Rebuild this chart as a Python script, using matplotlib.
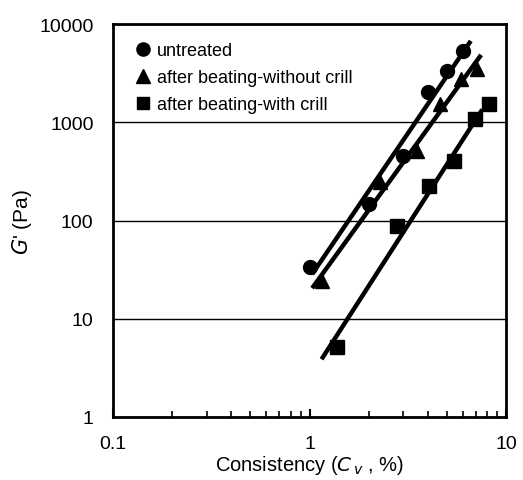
import numpy as np
import matplotlib.pyplot as plt
from matplotlib.ticker import FixedLocator, NullFormatter, LogLocator

plt.rcParams['font.family'] = ['Liberation Sans', 'DejaVu Sans']

# ---------------- data ----------------
cv_untreated = [1.0, 2.0, 3.0, 4.0, 5.0, 6.0]
g_untreated = [34, 147, 450, 2050, 3300, 5300]

cv_nocrill = [1.16, 2.27, 3.5, 4.6, 5.9, 7.1]
g_nocrill = [24, 245, 505, 1530, 2750, 3450]

cv_crill = [1.37, 2.77, 4.06, 5.45, 6.9, 8.2]
g_crill = [5.2, 88, 225, 400, 1080, 1530]

# x-range covered by each fitted power-law line
fit_range_untreated = [1.03, 6.6]
fit_range_nocrill = [1.03, 7.45]
fit_range_crill = [1.15, 7.55]

labels = ["untreated", "after beating-without crill", "after beating-with crill"]

fig = plt.figure(figsize=(5.23, 4.81), dpi=100)
ax = fig.add_axes([0.216, 0.131, 0.752, 0.817])

series = [
    (cv_untreated, g_untreated, fit_range_untreated, 'o', 10),
    (cv_nocrill, g_nocrill, fit_range_nocrill, '^', 10),
    (cv_crill, g_crill, fit_range_crill, 's', 9.5),
]

for (x, y, rng, mk, ms), lab in zip(series, labels):
    # power-law fit in log-log space
    p = np.polyfit(np.log10(x), np.log10(y), 1)
    xf = np.array(rng)
    yf = 10 ** np.polyval(p, np.log10(xf))
    ax.plot(xf, yf, color='k', linewidth=3.2, solid_capstyle='butt', zorder=3)
    ax.plot(x, y, linestyle='none', marker=mk, markersize=ms, color='k',
            label=lab, zorder=4)

ax.set_xscale('log')
ax.set_yscale('log')
ax.set_xlim(0.1, 10)
ax.set_ylim(1, 10000)

ax.yaxis.grid(True, which='major', color='k', linewidth=1.0)
ax.set_axisbelow(True)

ax.xaxis.set_major_locator(FixedLocator([0.1, 1, 10]))
ax.xaxis.set_minor_locator(LogLocator(base=10, subs=np.arange(2, 10)))
ax.xaxis.set_minor_formatter(NullFormatter())
ax.set_xticklabels(['0.1', '1', '10'])
ax.yaxis.set_major_locator(FixedLocator([1, 10, 100, 1000, 10000]))
ax.yaxis.set_minor_locator(FixedLocator([]))
ax.set_yticklabels(['1', '10', '100', '1000', '10000'])

ax.tick_params(axis='x', which='major', direction='in', length=6, width=1.5,
               labelsize=14, pad=13)
ax.tick_params(axis='x', which='minor', direction='in', length=4, width=1.2)
ax.tick_params(axis='y', which='major', direction='in', length=0,
               labelsize=14, pad=14)

for s in ax.spines.values():
    s.set_linewidth(2)

ax.set_xlabel(r"Consistency ($C_{\,v}$ , %)", fontsize=14.5, labelpad=1)
ax.set_ylabel(r"$G$' (Pa)", fontsize=15, labelpad=4)

ax.legend(loc='upper left', frameon=False, fontsize=13, handlelength=0.6,
          handletextpad=0.5, labelspacing=0.55, borderaxespad=0.5,
          markerscale=0.95, bbox_to_anchor=(0.02, 0.995))

fig.savefig('out.png', dpi=100)
